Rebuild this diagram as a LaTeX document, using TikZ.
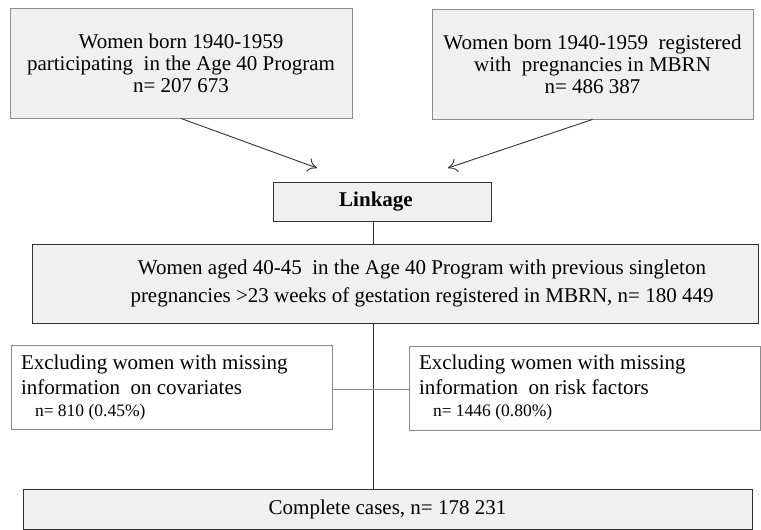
\documentclass[tikz,border=0pt]{standalone}
\usepackage{fontspec}
\setmainfont{Liberation Serif}
\usetikzlibrary{arrows.meta,positioning}
\tikzset{>={To[length=9pt,width=14pt]}}
\colorlet{boxFill}{black!6}
\colorlet{penColor}{black!80}
\colorlet{penColor2}{black!45}
\tikzset{
  greybox/.style={draw=penColor2, fill=boxFill, inner sep=0pt, align=center},
  darkbox/.style={draw=penColor, fill=boxFill, inner sep=0pt, align=center},
  exbox/.style={draw=penColor2, fill=white, inner xsep=10pt, inner ysep=0pt, align=flush left, minimum height=84pt}
}

\begin{document}
\begin{tikzpicture}[x=1pt, y=-1pt, font=\fontsize{21}{22}\selectfont, line width=0.9pt]
\useasboundingbox (0,0) rectangle (761,530);
\node[greybox, minimum width=342pt, minimum height=110pt] (age40) at (181,63) {Women born 1940-1959\\ participating\ \ in the Age 40 Program\\ n= 207 673};
\node[greybox, minimum width=321pt, minimum height=110pt] (mbrn) at (592.5,64) {Women born 1940-1959\ \ registered\\ with\ \ pregnancies in MBRN\\ n= 486 387};
\coordinate (tipL) at (317,168);
\coordinate (tipR) at (448,168);
\draw[->, penColor] (age40.south) -- (tipL);
\draw[->, penColor] (mbrn.south) -- (tipR);
\node[darkbox, minimum width=218pt, minimum height=39pt] (link) at (382,201.5) {\hspace*{-12pt}\textbf{Linkage}};
\node[darkbox, minimum width=726pt, minimum height=79pt, font=\fontsize{21}{28}\selectfont] (cohort) at (395,283.5) {\hspace*{54pt}Women aged 40-45\ \ in the Age 40 Program with previous singleton\\ \hspace*{54pt}pregnancies >23 weeks of gestation registered in MBRN, n= 180 449};
\node[exbox, text width=301pt, font=\fontsize{21}{25}\selectfont] (excov) at (171.5,387.5) {Excluding women with missing\\ information\ \ on covariates\\[-3pt] {\fontsize{17.5}{20}\selectfont\hspace*{14pt}n= 810 (0.45\%)}};
\node[exbox, text width=331pt, font=\fontsize{21}{25}\selectfont] (exrisk) at (584.5,388) {Excluding women with missing\\ information\ \ on risk factors\\[-3pt] {\fontsize{17.5}{20}\selectfont\hspace*{14pt}n= 1446 (0.80\%)}};
\node[darkbox, minimum width=729pt, minimum height=40pt] (complete) at (387.5,509) {Complete cases, n= 178 231};
\coordinate (trunk) at (373,389);
\draw[penColor] (link.south -| trunk) -- (cohort.north -| trunk);
\draw[penColor] (cohort.south -| trunk) -- (complete.north -| trunk);
\draw[penColor2] (excov.east |- trunk) -- (exrisk.west |- trunk);
\end{tikzpicture}
\end{document}
